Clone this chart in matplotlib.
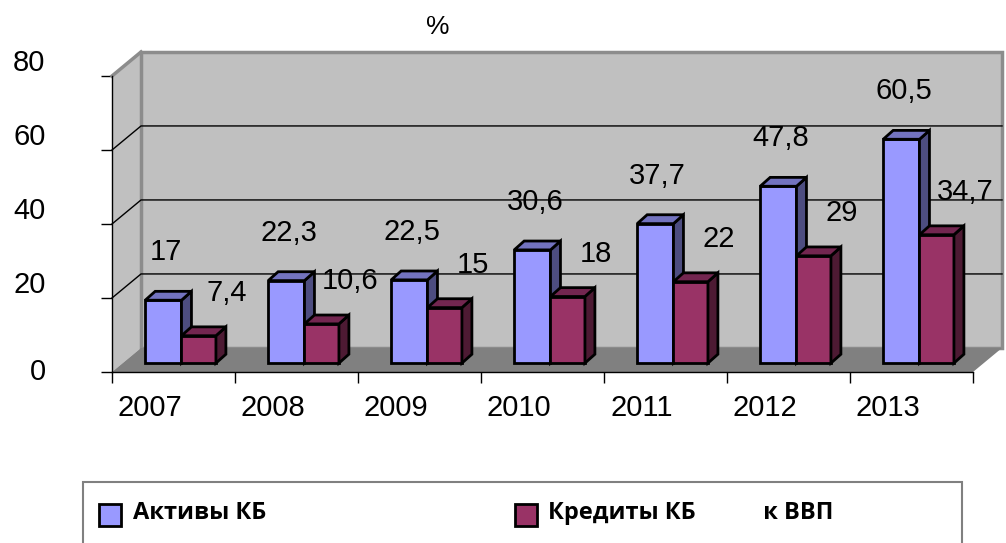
import matplotlib.pyplot as plt
from matplotlib.patches import Polygon, Rectangle

years = ['2007', '2008', '2009', '2010', '2011', '2012', '2013']
assets = [17, 22.3, 22.5, 30.6, 37.7, 47.8, 60.5]
credits = [7.4, 10.6, 15, 18, 22, 29, 34.7]
y_ticks = [0, 20, 40, 60, 80]
series_names = ['Активы КБ', 'Кредиты КБ           к ВВП']

blue_face, blue_side, blue_top = '#9999ff', '#4d4d80', '#7373bf'
red_face, red_side, red_top = '#993366', '#4d1a33', '#732650'
wall, floor, border = '#c0c0c0', '#808080', '#8c8c8c'

plt.rcParams['font.family'] = ['Liberation Sans', 'DejaVu Sans']

W, H = 1006, 543
fig = plt.figure(figsize=(W / 100, H / 100), dpi=100)

# plot box in pixels: x axis 112..973, y=0 at 372, y=80 at 76
ax = fig.add_axes([112 / W, 1 - 372 / H, (973 - 112) / W, (372 - 76) / H])
n = len(years)
ax.set_xlim(0, n)
ax.set_ylim(0, 80)
ax.set_facecolor('none')
for s in ['top', 'right']:
    ax.spines[s].set_visible(False)
for s in ['left', 'bottom']:
    ax.spines[s].set_color('black')
    ax.spines[s].set_linewidth(1)

DX, DY = 0.236, 6.5   # depth of the chart box
dx, dy = 0.081, 2.4   # depth of one bar
base = 2.4            # bars stand a bit behind the front edge

# walls and floor
ax.add_patch(Polygon([(0, 0), (DX, DY), (DX, 80 + DY), (0, 80)],
                     fc=wall, ec='none', clip_on=False))
ax.add_patch(Polygon([(DX, DY), (n + DX, DY), (n + DX, 80 + DY), (DX, 80 + DY)],
                     fc=wall, ec=border, lw=2.5, clip_on=False))
ax.add_patch(Polygon([(0, 0), (n, 0), (n + DX, DY), (DX, DY)],
                     fc=floor, ec='none', clip_on=False))
ax.plot([0, DX], [80, 80 + DY], color=border, lw=2.5, clip_on=False)
for t in y_ticks[1:-1]:
    ax.plot([0, DX, n + DX], [t, t + DY, t + DY], color='black', lw=1, clip_on=False)

# ticks
ax.set_yticks(y_ticks)
ax.set_yticklabels([])
ax.tick_params(axis='y', direction='out', length=8, width=1)
ax.set_xticks(range(n + 1))
ax.set_xticklabels([])
ax.tick_params(axis='x', which='major', direction='out', length=8, width=1)
ax.set_xticks([i + 0.31 for i in range(n)], minor=True)
ax.set_xticklabels(years, minor=True, fontsize=21)
ax.tick_params(axis='x', which='minor', length=0, pad=16)

for t in y_ticks:
    ax.text(-0.54, t + (3.5 if t else 0), str(t), fontsize=21, ha='right', va='center')


def bar3d(xs, vals, w, face, side, top):
    ax.bar(xs, vals, width=w, bottom=base, align='edge', color=face,
           edgecolor='black', linewidth=2, zorder=3)
    for x, v in zip(xs, vals):
        y = base + v
        ax.add_patch(Polygon([(x + w, base), (x + w + dx, base + dy), (x + w + dx, y + dy), (x + w, y)],
                             fc=side, ec='black', lw=2, zorder=3))
        ax.add_patch(Polygon([(x, y), (x + dx, y + dy), (x + w + dx, y + dy), (x + w, y)],
                             fc=top, ec='black', lw=2, zorder=3))


bw, rw = 0.295, 0.28
bx = [i + 0.27 for i in range(n)]
rx = [i + 0.565 for i in range(n)]
bar3d(bx, assets, bw, blue_face, blue_side, blue_top)
bar3d(rx, credits, rw, red_face, red_side, red_top)


def fmt(v):
    return f'{v:g}'.replace('.', ',')


for x, v in zip(bx, assets):
    ax.text(x + bw / 2 + 0.02, base + v + 13, fmt(v), fontsize=21, ha='center', va='center', zorder=4)
for x, v in zip(rx, credits):
    ax.text(x + rw / 2 + 0.23, base + v + 11.5, fmt(v), fontsize=21, ha='center', va='center',
            zorder=4, clip_on=False)

fig.text(438 / W, 1 - 27 / H, '%', fontsize=19, ha='center', va='center')

# legend box
fig.add_artist(Rectangle((83 / W, 1 - 546 / H), (962 - 83) / W, (546 - 482) / H,
                         transform=fig.transFigure, fill=False, ec='#808080', lw=1.5))
lfont = dict(fontsize=17, fontweight='bold', family=['Open Sans', 'DejaVu Sans'], va='center')
for (sx, tx), name, col in zip([(99, 133), (515, 548)], series_names, [blue_face, red_face]):
    fig.add_artist(Rectangle((sx / W, 1 - 526 / H), 22 / W, 22 / H, transform=fig.transFigure,
                             fc=col, ec='black', lw=2))
    fig.text(tx / W, 1 - 513 / H, name, **lfont)

fig.savefig('out.png', dpi=100)
